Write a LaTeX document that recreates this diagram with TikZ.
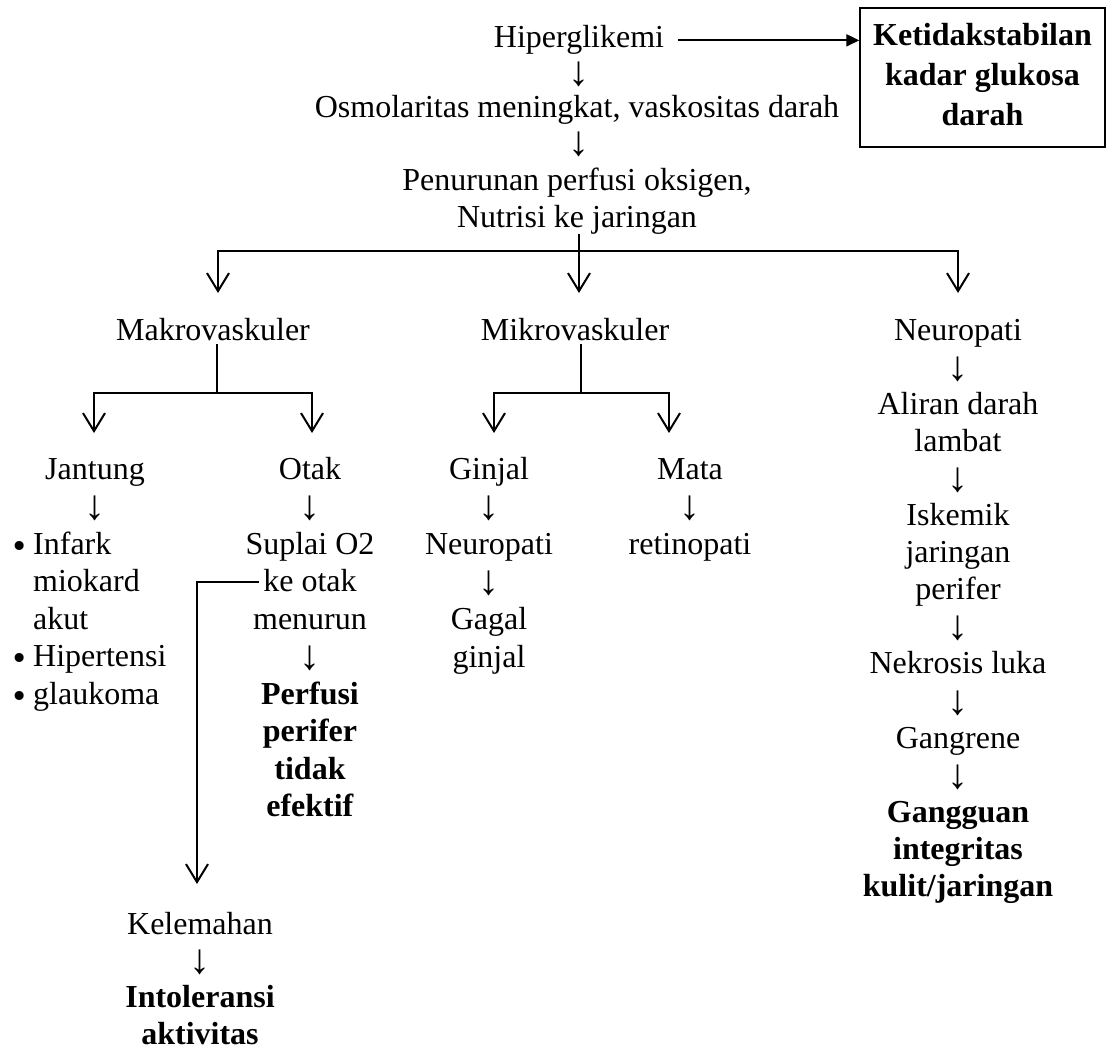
\documentclass[tikz,border=0pt]{standalone}
\usepackage{fontspec}
\setmainfont{Liberation Serif}
\newfontfamily\bulfont{DejaVu Sans}
\usetikzlibrary{arrows.meta}
\newcommand\lns[1]{\begin{tabular}[t]{@{}c@{}}#1\end{tabular}}
\newcommand\lnsl[1]{\begin{tabular}[t]{@{}l@{}}#1\end{tabular}}
\newcommand\dn{\raisebox{-3pt}[0pt][0pt]{\fontsize{42}{42}\selectfont ↓}}
\newcommand\fs[1]{\fontsize{32}{#1}\selectfont}
\begin{document}
\begin{tikzpicture}[x=1pt,y=-1pt,
  txt/.style={inner sep=0pt, anchor=base, font=\fs{37.5}},
  conn/.style={line width=2pt},
  tree/.style={line width=2pt, line join=miter, -{Straight Barb[length=18pt,width=22pt,line width=2pt]}},
  boxed/.style={draw, line width=1.5pt, inner sep=0pt, minimum width=245pt, minimum height=139pt,
    font=\fs{40}\bfseries},
  bul/.style={inner sep=0pt, anchor=base, font=\bulfont\fontsize{31}{37.5}\selectfont},
  solid arrow/.style={line width=2.2pt, -{Triangle[length=13pt,width=12pt]}}]
\useasboundingbox (0,0) rectangle (1115,1059);

% top chain
\node[txt] (hip) at (579,48) {Hiperglikemi};
\node[txt] (d1) at (579,83) {\dn};
\node[txt] (osm) at (577,118) {Osmolaritas meningkat, vaskositas darah};
\node[txt] (d2) at (579,153) {\dn};
\node[txt, font=\fs{36.5}] (pen) at (577,191) {\lns{Penurunan perfusi oksigen,\\Nutrisi ke jaringan}};

\node[boxed] (box) at (982.5,77.5) {\lns{Ketidakstabilan\\kadar glukosa\\darah}};
\draw[solid arrow, shorten <=14pt] (hip.east) -- (hip.east -| box.west);

% level 1
\node[txt] (makro) at (213,340) {Makrovaskuler};
\node[txt] (mikro) at (575,340) {Mikrovaskuler};
\node[txt, font=\fs{37.1}] (neuro) at (958,340) {\lns{Neuropati\\\dn\\Aliran darah\\lambat\\\dn\\Iskemik\\jaringan\\perifer\\\dn\\Nekrosis luka\\\dn\\Gangrene\\\dn\\\textbf{Gangguan}\\\textbf{integritas}\\\textbf{kulit/jaringan}}};

\coordinate (j0) at (579,234);
\coordinate (j1) at (579,251);
\coordinate (tA) at (218,293);
\coordinate (tB) at (579,293);
\coordinate (tC) at (958,293);
\draw[tree] (j0) -- (tB);
\draw[tree] (j1) -| (tA);
\draw[tree] (j1) -| (tC);

% makro subtree
\coordinate (k0) at (217,344);
\coordinate (k1) at (217,393);
\coordinate (kA) at (94,433);
\coordinate (kB) at (312,433);
\draw[conn] (k0) -- (k1);
\draw[tree] (k1) -| (kA);
\draw[tree] (k1) -| (kB);

% mikro subtree
\coordinate (m0) at (581,344);
\coordinate (m1) at (581,393);
\coordinate (mA) at (494,433);
\coordinate (mB) at (669,433);
\draw[conn] (m0) -- (m1);
\draw[tree] (m1) -| (mA);
\draw[tree] (m1) -| (mB);

% level 2
\node[txt] (jant) at (95,479) {\lns{Jantung\\\dn}};
\node[txt, anchor=base west] (list) at (33,554) {\lnsl{Infark\\miokard\\akut\\Hipertensi\\glaukoma}};
\node[bul] (bullets) at (20,557) {\lns{•\\ \\ \\•\\•}};

\node[txt] (otak) at (310,479) {\lns{Otak\\\dn\\Suplai O2\\ke otak\\menurun\\\dn\\\textbf{Perfusi}\\\textbf{perifer}\\\textbf{tidak}\\\textbf{efektif}}};

\node[txt, font=\fs{37.6}] (ginj) at (489,479) {\lns{Ginjal\\\dn\\Neuropati\\\dn\\Gagal\\ginjal}};
\node[txt] (mata) at (690,479) {\lns{Mata\\\dn\\retinopati}};

% otak -> kelemahan
\node[txt, font=\fs{36.7}] (kel) at (200,934) {\lns{Kelemahan\\\dn\\\textbf{Intoleransi}\\\textbf{aktivitas}}};
\coordinate (o0) at (259,582);
\coordinate (o1) at (197,884);
\draw[tree] (o0) -| (o1);
\end{tikzpicture}
\end{document}
